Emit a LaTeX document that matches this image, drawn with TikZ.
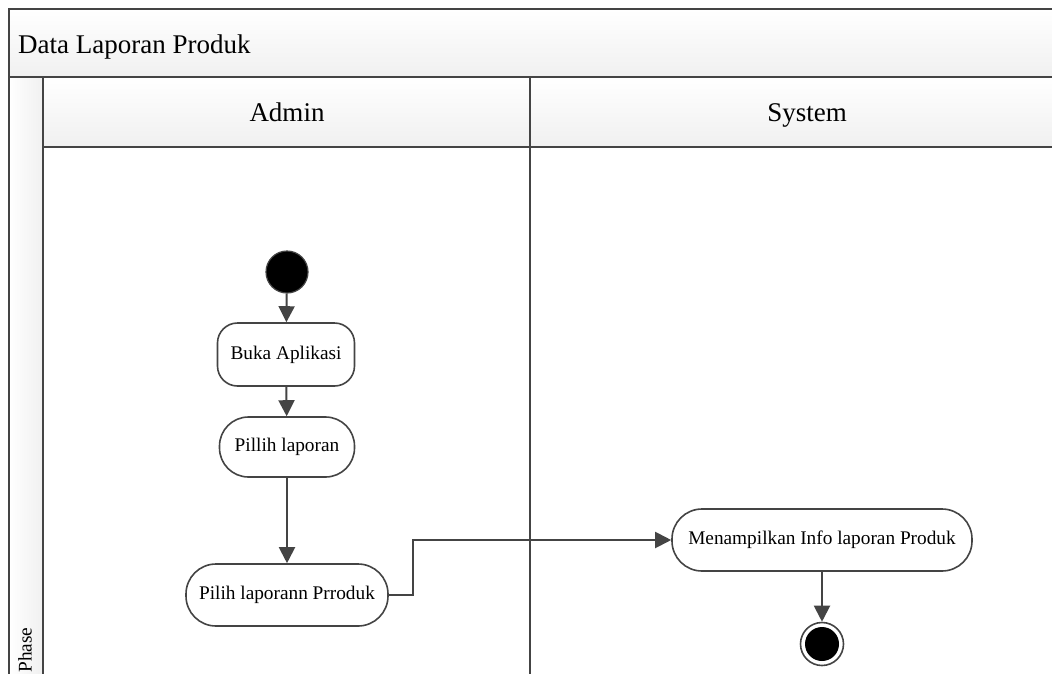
\documentclass[tikz,border=0pt]{standalone}
\usepackage{fontspec}
\setmainfont{Liberation Serif}
\usetikzlibrary{arrows.meta,calc}
\definecolor{lineC}{RGB}{68,68,68}
\definecolor{hdrC}{RGB}{240,240,240}
\tikzset{
  lanebox/.style={draw=lineC,line width=2pt},
  act/.style={draw=lineC,line width=1.6pt,fill=white,align=center,inner sep=0pt,
     font=\fontsize{19.3}{23}\selectfont},
  flow/.style={draw=lineC,line width=2pt,-{Triangle[length=16pt,width=16pt]}},
  hdrtext/.style={font=\fontsize{27}{32}\selectfont,inner sep=0pt},
}
\begin{document}
\begin{tikzpicture}[x=1pt,y=-1pt]
\useasboundingbox (0,0) rectangle (1052,673);
\clip (0,0) rectangle (1052,673);
% background
\fill[white] (0,0) rectangle (1052,673);
% title band
\shade[top color=white,bottom color=hdrC] (9,9) rectangle (1070,77);
% phase column
\shade[left color=white,right color=hdrC] (9,77) rectangle (43,690);
% lane headers
\shade[top color=white,bottom color=hdrC] (43,77) rectangle (1070,147);
% lines
\draw[lanebox] (1070,9) -- (9,9) -- (9,690);
\draw[lanebox] (9,77) -- (1070,77);
\draw[lanebox] (43,77) -- (43,690);
\draw[lanebox] (43,147) -- (1070,147);
\draw[lanebox] (530,77) -- (530,690);
% header texts
\node[hdrtext,anchor=base west] (title) at (18,53) {Data Laporan Produk};
\node[hdrtext,anchor=base] (admin) at (287,121.5) {Admin};
\node[hdrtext,anchor=base] (system) at (807,121.5) {System};
\node[font=\fontsize{19.3}{23}\selectfont,inner sep=0pt,rotate=90] (phase) at (25,650) {Phase};
% nodes
\node[circle,draw=lineC,line width=1.2pt,fill=black,minimum size=42pt,inner sep=0pt] (start) at (287,272) {};
\node[act,minimum width=137pt,minimum height=63pt,rounded corners=20pt] (buka) at (286,354.5) {Buka Aplikasi};
\node[act,minimum width=135pt,minimum height=60pt,rounded corners=29pt] (pillih) at (287,447) {Pillih laporan};
\node[act,minimum width=202pt,minimum height=62pt,rounded corners=30pt] (prod) at (287,595) {Pilih laporann Prroduk};
\node[act,minimum width=300pt,minimum height=62pt,rounded corners=30pt] (tampil) at (822,540) {Menampilkan Info laporan Produk};
\node[circle,draw=lineC,line width=1.6pt,fill=white,minimum size=43pt,inner sep=0pt] (final) at (822,644) {};
\node[circle,fill=black,minimum size=34pt,inner sep=0pt] (finalin) at (final.center) {};
% connectors
\coordinate (bend) at (413,595);
\draw[flow] (start) -- (buka);
\draw[flow] (buka) -- (pillih);
\draw[flow] (pillih) -- (prod);
\draw[flow] (prod.east) -- (bend) |- (tampil.west);
\draw[flow] (tampil) -- (final);
\end{tikzpicture}
\end{document}
